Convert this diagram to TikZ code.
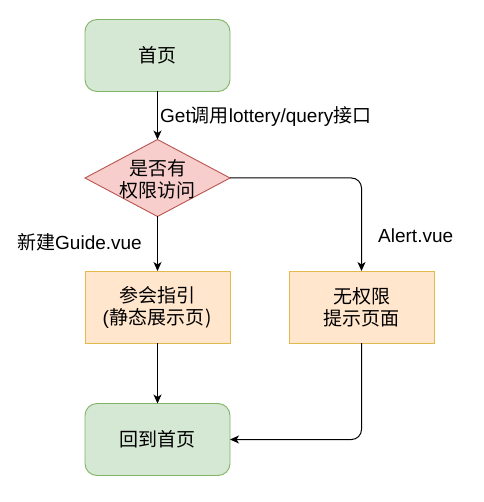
\documentclass[tikz,border=0pt]{standalone}
\usepackage{fontspec}
\setmainfont{Liberation Sans}
\newfontfamily\cjk{Noto Sans CJK SC}
\usetikzlibrary{shapes.geometric,arrows.meta}
\definecolor{gfill}{HTML}{D5E8D4}
\definecolor{gline}{HTML}{82B366}
\definecolor{rfill}{HTML}{F8CECC}
\definecolor{rline}{HTML}{B85450}
\definecolor{ofill}{HTML}{FFE6CC}
\definecolor{oline}{HTML}{D79B00}
\tikzset{
  txt/.style={font=\fontsize{19}{22}\selectfont, align=center, text=black},
  gbox/.style={txt, draw=gline, fill=gfill, line width=0.9pt, rounded corners=12pt,
    minimum width=145pt, minimum height=72pt, inner sep=0pt, outer sep=0pt},
  obox/.style={txt, draw=oline!70, fill=ofill, line width=0.9pt,
    minimum width=145pt, minimum height=72pt, inner sep=0pt, outer sep=0pt},
  decide/.style={diamond, draw=rline, fill=rfill, line width=0.9pt,
    minimum width=145pt, minimum height=77pt, inner sep=0pt, outer sep=0pt},
  lbl/.style={txt, inner sep=0pt},
  conn/.style={draw=black, line width=1pt, -{Stealth[length=9pt,width=8pt,inset=2.5pt]}},
}
\begin{document}
\begin{tikzpicture}[x=1pt,y=-1pt]
\useasboundingbox (0,0) rectangle (483,502);
\node[gbox] (home) at (157.5,55.5) {\cjk 首页};
\node[decide] (dec) at (157.5,178) {};
\node[lbl] (dectxt) at (157.5,179) {\cjk 是否有\\\cjk 权限访问};
\node[obox] (guide) at (157.5,307) {\cjk 参会指引\\(\kern1pt\cjk 静态展示页\kern1pt)};
\node[obox] (nop) at (361.5,307) {\cjk 无权限\\\cjk 提示页面};
\node[gbox] (back) at (157.5,439.5) {\cjk 回到首页};

\draw[conn] (home.south) -- (dec.north);
\draw[conn] (dec.south) -- (guide.north);
\draw[conn, rounded corners=10pt] (dec.east) -| (nop.north);
\draw[conn] (guide.south) -- (back.north);
\draw[conn, rounded corners=10pt] (nop.south) |- (back.east);

\node[lbl, anchor=west] (l1) at (160,117) {Get{\cjk 调用}lottery/query{\cjk 接口}};
\node[lbl, anchor=east] (l2) at (142,242) {{\cjk 新建}Guide.vue};
\node[lbl, anchor=west] (l3) at (378,236) {Alert.vue};
\end{tikzpicture}
\end{document}
